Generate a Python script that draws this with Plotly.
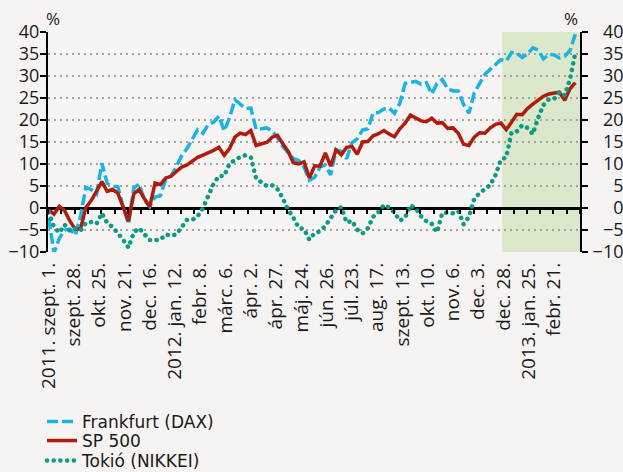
import plotly.graph_objects as go

# ---- data (percent change, sampled every 4 trading days from 2011-09-01) ----
step = 4
dax = [-2.3, -10.2, -6.9, -5.0, -4.8, -6.2, -1.8, 4.7, 4.2, 3.2,
       10.2, 5.6, 5.0, 4.8, 0.3, -3.7, 4.5, 5.5, 1.8, 0.3,
       2.5, 2.8, 6.5, 7.3, 9.4, 11.9, 13.5, 15.6, 17.8, 17.0,
       19.0, 19.5, 20.9, 17.5, 20.5, 24.6, 23.5, 22.6, 22.7, 17.9,
       18.0, 18.2, 17.5, 16.0, 14.0, 12.7, 11.2, 10.8, 9.3, 6.3,
       7.0, 9.3, 9.8, 7.5, 13.2, 12.9, 11.2, 14.8, 15.7, 17.7,
       18.0, 21.6, 21.7, 22.5, 22.7, 21.5, 23.8, 28.3, 28.5, 28.8,
       28.1, 28.5, 25.9, 28.3, 29.2, 27.1, 26.6, 26.6, 23.5, 21.5,
       26.2, 28.4, 30.4, 31.5, 32.5, 33.7, 33.4, 35.3, 35.2, 34.2,
       35.0, 36.4, 35.9, 33.9, 34.9, 34.8, 34.1, 34.5, 35.8, 39.5]
sp500 = [-0.4, -1.4, 0.4, -0.6, -3.0, -4.8, -4.7, 0.1, 1.7, 3.7,
         6.0, 3.8, 4.2, 3.4, 0.1, -3.0, 3.2, 4.2, 2.1, 0.3,
         5.7, 5.3, 6.8, 7.2, 8.3, 9.3, 9.8, 10.7, 11.5, 12.0,
         12.5, 13.1, 13.8, 12.0, 13.5, 16.1, 17.0, 16.7, 17.6, 14.2,
         14.6, 14.9, 16.1, 16.5, 14.6, 12.9, 10.3, 10.0, 10.5, 6.8,
         9.6, 9.5, 12.5, 9.5, 13.2, 12.1, 13.8, 14.0, 12.2, 15.0,
         15.1, 16.4, 16.9, 17.6, 16.8, 16.2, 18.0, 19.3, 21.1, 20.5,
         19.8, 19.6, 20.4, 19.3, 19.4, 18.1, 18.2, 17.0, 14.5, 14.2,
         16.1, 17.1, 17.0, 18.2, 19.0, 19.3, 17.8, 19.5, 21.3, 21.2,
         22.6, 23.6, 24.5, 25.4, 25.9, 26.1, 26.3, 24.5, 27.1, 28.5]
nikkei = [-1.0, -4.3, -5.6, -3.8, -5.2, -4.6, -5.1, -3.4, -3.2, -3.6,
          -1.2, -3.4, -4.3, -5.6, -7.2, -9.0, -5.5, -4.6, -5.9, -7.3,
          -7.3, -7.2, -6.0, -6.3, -6.0, -4.2, -2.7, -2.7, -1.9, 0.0,
          2.7, 5.5, 7.3, 7.3, 10.1, 11.0, 11.6, 12.0, 11.5, 6.7,
          5.7, 5.0, 5.2, 4.3, 2.2, -0.4, -2.2, -4.5, -4.8, -7.2,
          -5.7, -5.3, -4.1, -2.5, -0.5, 0.2, -3.3, -2.9, -4.9, -5.8,
          -4.6, -2.0, -0.9, 0.7, 0.1, -1.0, -2.9, -2.2, 0.6, -0.1,
          -1.9, -3.0, -3.6, -5.5, -1.1, -1.1, -1.2, -0.7, -3.7, -2.0,
          2.1, 3.4, 4.3, 5.2, 7.5, 11.0, 11.5, 17.2, 17.4, 18.8,
          18.2, 16.8, 20.5, 23.4, 24.7, 24.8, 26.3, 25.6, 29.3, 35.3]
days = list(range(0, len(dax) * step, step))

tick_days = [0, 19, 38, 57, 76, 95, 114, 133, 152, 171, 190, 209, 228,
             247, 266, 285, 304, 323, 342, 361, 380]
tick_labels = ["2011. szept. 1.", "szept. 28.", "okt. 25.", "nov. 21.",
               "dec. 16.", "2012. jan. 12.", "febr. 8.", "márc. 6.",
               "ápr. 2.", "ápr. 27.", "máj. 24.", "jún. 26.", "júl. 23.",
               "aug. 17.", "szept. 13.", "okt. 10.", "nov. 6.", "dec. 3.",
               "dec. 28.", "2013. jan. 25.", "febr. 21."]
n_days = 400
shade_start = 341
y_min, y_max, y_step = -10, 40, 5
series_names = ["Frankfurt (DAX)", "SP 500", "Tokió (NIKKEI)"]

# ---- style ----
BG = "#f5f4f2"
C_DAX = "#1ab3e6"
C_SP = "#b01c0c"
C_NK = "#0b9a85"
TXT = "#1a1a1a"
LEG_FONT = dict(family="DejaVu Sans", size=17, color=TXT)

yt = list(range(y_min, y_max + 1, y_step))
FS = "\u2007"  # figure space: right-aligns the right-hand labels
yt_right_text = [(f"\u2212{abs(v)}" if v < 0 else str(v)).rjust(3, FS) for v in yt]

fig = go.Figure()
fig.add_trace(go.Scatter(x=days, y=dax, mode="lines", name=series_names[0],
                         line=dict(color=C_DAX, width=3.5, dash="11px,4px"),
                         legend="legend"))
fig.add_trace(go.Scatter(x=days, y=sp500, mode="lines", name=series_names[1],
                         line=dict(color=C_SP, width=3.5), legend="legend2"))
fig.add_trace(go.Scatter(x=days, y=nikkei, mode="lines", name=series_names[2],
                         line=dict(color=C_NK, width=4.5, dash="4px,3px"),
                         legend="legend3"))
# helper trace so the overlay axes (zero-line ticks, right axis) exist
fig.add_trace(go.Scatter(x=[None], y=[None], xaxis="x2", yaxis="y2",
                         showlegend=False, hoverinfo="skip"))

fig.add_shape(type="rect", xref="x", yref="y", x0=shade_start, x1=n_days - 0.5,
              y0=y_min, y1=y_max, fillcolor="#dbe8cb", line_width=0, layer="below")

yaxis_common = dict(range=[y_min, y_max], tickvals=yt, ticks="outside", ticklen=6,
                    tickwidth=2, tickcolor="black", showline=True, linewidth=2,
                    linecolor="black", fixedrange=True)

fig.update_layout(
    width=623, height=472,
    margin=dict(l=48, r=43, t=32, b=220, autoexpand=False),
    paper_bgcolor=BG, plot_bgcolor=BG,
    xaxis=dict(range=[-0.5, n_days - 0.5], tickvals=tick_days, ticktext=tick_labels,
               tickangle=-90, ticks="", showline=False, showgrid=False,
               zeroline=False, tickfont=dict(family="Open Sans", size=19, color=TXT),
               ticklabelstandoff=6),
    xaxis2=dict(range=[-0.5, n_days - 0.5], overlaying="x", anchor="free",
                position=(0 - y_min) / (y_max - y_min), side="bottom",
                tick0=-0.5, dtick=10, ticks="outside", ticklen=5, tickwidth=2,
                tickcolor="black", showticklabels=False, showline=False,
                showgrid=False, zeroline=False),
    yaxis=dict(**yaxis_common, tickfont=dict(family="Open Sans", size=18, color=TXT),
               showgrid=True, gridcolor="#a3a3a3", gridwidth=1.5,
               griddash="2px,4px", zeroline=True, zerolinecolor="black",
               zerolinewidth=2.5, ticklabelstandoff=-3),
    yaxis2=dict(**yaxis_common, ticktext=yt_right_text,
                tickfont=dict(family="Open Sans", size=18, color=TXT),
                overlaying="y", side="right", anchor="x",
                showgrid=False, zeroline=False, ticklabelstandoff=1),
    legend=dict(x=-0.0113, xanchor="left", y=-0.773, yanchor="middle",
                bgcolor="rgba(0,0,0,0)", font=LEG_FONT),
    legend2=dict(x=-0.0113, xanchor="left", y=-0.859, yanchor="middle",
                 bgcolor="rgba(0,0,0,0)", font=LEG_FONT),
    legend3=dict(x=-0.0113, xanchor="left", y=-0.95, yanchor="middle",
                 bgcolor="rgba(0,0,0,0)", font=LEG_FONT),
    annotations=[
        dict(text="%", xref="paper", yref="paper", x=0, y=1, xanchor="left",
             yanchor="bottom", xshift=-4, showarrow=False,
             font=dict(family="Open Sans", size=17, color=TXT)),
        dict(text="%", xref="paper", yref="paper", x=1, y=1, xanchor="right",
             yanchor="bottom", showarrow=False,
             font=dict(family="Open Sans", size=17, color=TXT)),
    ],
    showlegend=True,
)

post = """
document.body.style.margin = '0';
document.documentElement.style.margin = '0';
var gd = document.getElementById('{plot_id}');
var tr = gd.querySelectorAll('.scatterlayer .trace');
function roundDots(p){ p.style.strokeLinecap='round'; p.style.strokeDasharray='0.1px,6.6px'; }
if (tr.length > 2) { tr[2].querySelectorAll('path.js-line').forEach(roundDots); }
gd.querySelectorAll('.legend3 path.js-line, g[class*="legend3"] path.js-line').forEach(roundDots);
"""
fig.write_html("out.html", post_script=post, config={"displayModeBar": False})
